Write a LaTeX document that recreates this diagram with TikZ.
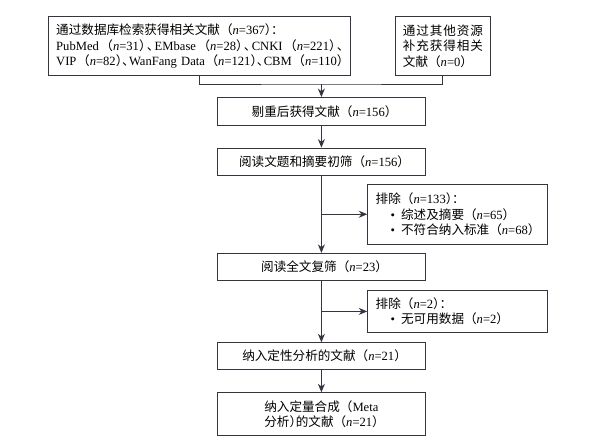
\documentclass[tikz,border=0pt]{standalone}
\usepackage{fontspec}
\setmainfont{Liberation Serif}
\newfontfamily\cjk{Noto Sans CJK SC}
\newfontfamily\cjkwide[LetterSpace=7]{Noto Sans CJK SC}
\usetikzlibrary{arrows.meta}
\lineskiplimit=-30pt
\newcommand{\zh}[1]{{\cjk #1}}
\newcommand{\nv}{\textit{n}}
\newcommand{\lp}{{\cjk （}}
\newcommand{\rp}{{\cjk ）}\kern-0.5em}
\newcommand{\dun}{{\cjk 、}\kern-0.5em}
\newcommand{\gl}{\hskip 0pt plus 1fil\relax}
\newcommand{\bul}{\leavevmode\kern15pt•\kern6pt}
\definecolor{linecol}{HTML}{35353F}
\tikzset{
  box/.style={draw=linecol, line width=0.9pt, inner sep=0pt, align=center,
    font=\fontsize{12.6}{15.5}\selectfont},
  leftbox/.style={box, align=left},
  arr/.style={draw=linecol, line width=0.9pt, -{Stealth[length=8.5pt,width=7pt]}},
  ln/.style={draw=linecol, line width=0.9pt}
}
\begin{document}
\begin{tikzpicture}[x=1pt,y=-1pt]
\useasboundingbox[fill=white] (0,0) rectangle (609,442);
\node[leftbox, text width=287pt, inner xsep=7.5pt, minimum height=58.6pt] (b1) at (199.7,46)
  {\zh{通过数据库检索获得相关文献}\lp\nv=367\rp\zh{：}\\
   \leavevmode\hbox to 287pt{PubMed\gl\lp\nv=31\rp\gl\dun\gl EMbase\gl\lp\nv=28\rp\gl\dun\gl CNKI\gl\lp\nv=221\rp\gl\dun}\\
   \leavevmode\hbox to 287pt{VIP\gl\lp\nv=82\rp\dun\gl WanFang Data\gl\lp\nv=121\rp\dun\gl CBM\gl\lp\nv=110\rp}};
\node[leftbox, text width=80pt, inner xsep=7.15pt, minimum height=58.6pt] (b2) at (442.9,46)
  {{\cjkwide 通过其他资源}\\ {\cjkwide 补充获得相关}\\ \zh{文献}\lp\nv=0\rp};
\node[box, minimum width=207.8pt, minimum height=27.8pt] (b3) at (321.4,111.4)
  {\zh{剔重后获得文献}\lp\nv=156\rp};
\node[box, minimum width=207.8pt, minimum height=27.7pt] (b4) at (321.4,161.9)
  {\zh{阅读文题和摘要初筛}\lp\nv=156\rp};
\node[leftbox, text width=164pt, inner xsep=8pt, minimum height=59.5pt] (e1) at (457.7,214.25)
  {\zh{排除}\lp\nv=133\rp\zh{：}\\
   \bul\zh{综述及摘要}\lp\nv=65\rp\\
   \bul\zh{不符合纳入标准}\lp\nv=68\rp};
\node[box, minimum width=207.8pt, minimum height=26.7pt] (b5) at (321.4,266.7)
  {\zh{阅读全文复筛}\lp\nv=23\rp};
\node[leftbox, text width=164pt, inner xsep=8pt, minimum height=42.7pt] (e2) at (457.7,311.4)
  {\zh{排除}\lp\nv=2\rp\zh{：}\\
   \bul\zh{无可用数据}\lp\nv=2\rp};
\node[box, minimum width=207.8pt, minimum height=26.6pt] (b6) at (321.4,356)
  {\zh{纳入定性分析的文献}\lp\nv=21\rp};
\node[leftbox, minimum width=207.8pt, minimum height=43pt] (b7) at (321.4,414.2)
  {\zh{纳入定量合成}\lp Meta\\ \zh{分析}\rp\zh{的文献}\lp\nv=21\rp};
\coordinate (m) at (321.4,84);
\draw[ln] (b1.south) |- (m) -| (b2.south);
\draw[arr] (m) -- (b3.north);
\draw[arr] (b3) -- (b4);
\draw[arr] (b4) -- (b5);
\draw[arr] (b5) -- (b6);
\draw[arr] (b6) -- (b7);
\draw[arr] (b4.south |- e1.west) -- (e1.west);
\draw[arr] (b5.south |- e2.west) -- (e2.west);
\end{tikzpicture}
\end{document}
